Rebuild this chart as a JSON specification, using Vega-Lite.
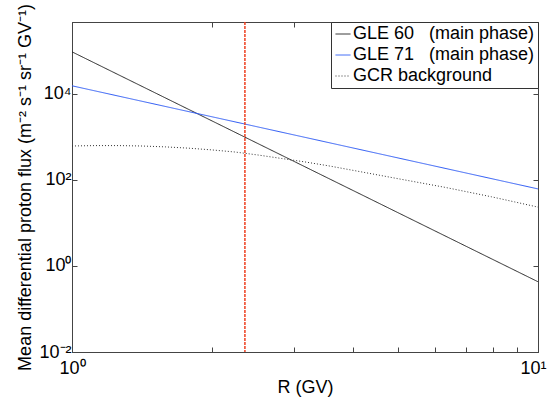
{
  "$schema": "https://vega.github.io/schema/vega-lite/v6.json",
  "width": 466,
  "height": 330,
  "autosize": "none",
  "padding": {"left": 72, "top": 22, "right": 12, "bottom": 46},
  "background": "white",
  "config": {
    "font": "Liberation Sans",
    "view": {"stroke": "#444", "strokeWidth": 1},
    "axis": {"grid": false, "domainColor": "#444", "tickColor": "#444", "labelColor": "black", "titleColor": "black", "labelFont": "Liberation Sans", "titleFont": "Liberation Sans", "titleFontWeight": "normal"}
  },
  "resolve": {"axis": {"x": "independent", "y": "independent"}},
  "layer": [
    {
      "data": {"values": [
        {"series": "GLE 60\u00a0\u00a0\u00a0(main phase)", "R": 1, "flux": 95500},
        {"series": "GLE 60\u00a0\u00a0\u00a0(main phase)", "R": 10, "flux": 0.43},
        {"series": "GLE 71\u00a0\u00a0\u00a0(main phase)", "R": 1, "flux": 15500},
        {"series": "GLE 71\u00a0\u00a0\u00a0(main phase)", "R": 10, "flux": 62},
        {"series": "GCR background", "R": 1, "flux": 617},
        {"series": "GCR background", "R": 1.122, "flux": 631},
        {"series": "GCR background", "R": 1.259, "flux": 631},
        {"series": "GCR background", "R": 1.413, "flux": 617},
        {"series": "GCR background", "R": 1.585, "flux": 589},
        {"series": "GCR background", "R": 1.778, "flux": 550},
        {"series": "GCR background", "R": 1.995, "flux": 501},
        {"series": "GCR background", "R": 2.239, "flux": 447},
        {"series": "GCR background", "R": 2.512, "flux": 380},
        {"series": "GCR background", "R": 2.818, "flux": 316},
        {"series": "GCR background", "R": 3.162, "flux": 263},
        {"series": "GCR background", "R": 3.548, "flux": 214},
        {"series": "GCR background", "R": 3.981, "flux": 170},
        {"series": "GCR background", "R": 4.467, "flux": 135},
        {"series": "GCR background", "R": 5.012, "flux": 107},
        {"series": "GCR background", "R": 5.623, "flux": 85.1},
        {"series": "GCR background", "R": 6.31, "flux": 67.6},
        {"series": "GCR background", "R": 7.079, "flux": 52.5},
        {"series": "GCR background", "R": 7.943, "flux": 40.7},
        {"series": "GCR background", "R": 8.913, "flux": 30.9},
        {"series": "GCR background", "R": 10, "flux": 23.4}
      ]},
      "mark": {"type": "line", "strokeWidth": 1, "clip": true},
      "encoding": {
        "x": {"field": "R", "type": "quantitative",
          "scale": {"type": "log", "domain": [1, 10], "nice": false},
          "axis": {"title": "R (GV)", "titleFontSize": 18, "titlePadding": 1,
            "values": [1, 2, 3, 4, 5, 6, 7, 8, 9, 10],
            "labelExpr": "datum.value == 1 ? '10⁰' : datum.value == 10 ? '10¹' : ''",
            "labelFontSize": 18, "labelPadding": 12, "labelFlush": false, "labelOverlap": false, "labelBound": false,
            "labelOffset": {"condition": {"test": "datum.value == 10", "value": -5}, "value": 0},
            "tickSize": -5}},
        "y": {"field": "flux", "type": "quantitative",
          "scale": {"type": "log", "domain": [0.01, 472000], "nice": false},
          "axis": {"title": "Mean differential proton flux (m⁻² s⁻¹ sr⁻¹ GV⁻¹)", "titleFontSize": 18, "titlePadding": 4,
            "values": [0.01, 1, 100, 10000],
            "labelExpr": "datum.value == 0.01 ? '10⁻²' : datum.value == 1 ? '10⁰' : datum.value == 100 ? '10²' : '10⁴'",
            "labelFontSize": 18, "labelPadding": 6, "labelOverlap": false, "labelBound": false,
            "tickSize": -5}},
        "color": {"field": "series", "type": "nominal",
          "scale": {"domain": ["GLE 60\u00a0\u00a0\u00a0(main phase)", "GLE 71\u00a0\u00a0\u00a0(main phase)", "GCR background"], "range": ["#222222", "#2f5cf5", "#333333"]},
          "legend": {"title": null, "orient": "top-right", "offset": 0, "strokeColor": "#333", "fillColor": "white", "padding": 3, "rowPadding": 3,
            "labelFontSize": 18, "labelLimit": 300, "symbolType": "stroke", "symbolSize": 225, "symbolStrokeWidth": 1, "labelOffset": 1,
            "encode": {"symbols": {"update": {"strokeDash": {"scale": "strokeDash", "field": "value"}}}}}},
        "strokeDash": {"field": "series", "type": "nominal",
          "scale": {"domain": ["GLE 60\u00a0\u00a0\u00a0(main phase)", "GLE 71\u00a0\u00a0\u00a0(main phase)", "GCR background"], "range": [[1, 0], [1, 0], [1, 2]]},
          "legend": null}
      }
    },
    {
      "data": {"values": [{"R": 2.35}]},
      "mark": {"type": "rule", "color": "#ee4020", "strokeWidth": 1.5, "strokeDash": [3, 1]},
      "encoding": {
        "x": {"field": "R", "type": "quantitative", "axis": null}
      }
    },
    {
      "data": {"values": [{"R": 1, "flux": 1}]},
      "mark": {"type": "point", "opacity": 0},
      "encoding": {
        "x": {"field": "R", "type": "quantitative",
          "axis": {"orient": "top", "title": null, "labels": false, "values": [1, 2, 3, 4, 5, 6, 7, 8, 9, 10], "tickSize": -5}},
        "y": {"field": "flux", "type": "quantitative",
          "axis": {"orient": "right", "title": null, "labels": false, "values": [0.01, 1, 100, 10000], "tickSize": -5}}
      }
    }
  ]
}
